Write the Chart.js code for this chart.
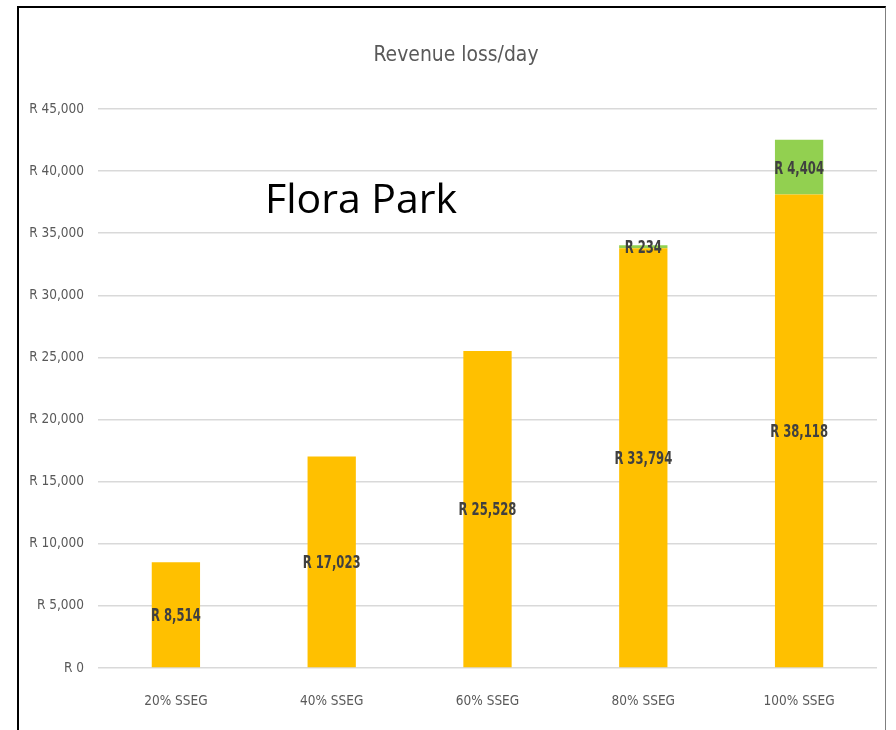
<!DOCTYPE html>
<html>
<head>
<meta charset="utf-8">
<script src="https://cdn.jsdelivr.net/npm/chart.js@4.4.1/dist/chart.umd.min.js"></script>
<style>
  html, body { margin: 0; padding: 0; background: #fff; }
  #wrap { position: relative; width: 896px; height: 730px; overflow: hidden; }
  #frame {
    position: absolute; left: 17px; top: 6px; width: 866px; height: 760px;
    border-left: 2px solid #000; border-top: 2px solid #000; border-right: 1px solid #7f7f7f;
  }
  #chart { position: absolute; left: 0; top: 0; }
</style>
</head>
<body>
<div id="wrap">
  <div id="frame"></div>
  <canvas id="chart" width="896" height="730"></canvas>
</div>
<script>
// 数据
const categories = ['20% SSEG', '40% SSEG', '60% SSEG', '80% SSEG', '100% SSEG'];
const baseLoss = [8514, 17023, 25528, 33794, 38118];
const extraLoss = [0, 0, 0, 234, 4404];
const yTicks = [0, 5000, 10000, 15000, 20000, 25000, 30000, 35000, 40000, 45000];

const narrow = '"Liberation Sans Narrow", "DejaVu Sans Condensed", "Open Sans", sans-serif';

// 格式化为 R 12,345
function formatRand(v) {
  return 'R ' + Math.round(v).toLocaleString('en-US');
}

// 横向压缩文字
function drawNarrowText(ctx, text, x, y, sx) {
  ctx.save();
  ctx.translate(x, y);
  ctx.scale(sx, 1);
  ctx.fillText(text, 0, 0);
  ctx.restore();
}

// 标题和段内数值标签
const labelPlugin = {
  id: 'labels',
  afterDatasetsDraw(chart) {
    const ctx = chart.ctx;
    ctx.save();
    ctx.textAlign = 'center';
    ctx.textBaseline = 'middle';
    ctx.fillStyle = '#404040';
    ctx.font = 'bold 17px ' + narrow;
    chart.data.datasets.forEach((ds, i) => {
      const meta = chart.getDatasetMeta(i);
      meta.data.forEach((bar, j) => {
        const v = ds.data[j];
        if (!v) return;
        const yMid = (bar.y + bar.base) / 2;
        drawNarrowText(ctx, formatRand(v), bar.x, yMid + 2, 0.76);
      });
    });
    ctx.restore();
  },
  afterDraw(chart) {
    const ctx = chart.ctx;
    ctx.save();
    ctx.textAlign = 'center';
    ctx.textBaseline = 'middle';
    ctx.fillStyle = '#595959';
    ctx.font = '22px ' + narrow;
    drawNarrowText(ctx, 'Revenue loss/day', 456, 55, 0.95);
    ctx.textAlign = 'left';
    ctx.fillStyle = '#000';
    ctx.font = '41px "Open Sans", sans-serif';
    ctx.fillText('Flora Park', 265, 201);
    ctx.restore();
  }
};

new Chart(document.getElementById('chart'), {
  type: 'bar',
  data: {
    labels: categories,
    datasets: [
      { label: 'Base', data: baseLoss, backgroundColor: '#FFC000', barPercentage: 0.31, categoryPercentage: 1 },
      { label: 'Extra', data: extraLoss, backgroundColor: '#92D050', barPercentage: 0.31, categoryPercentage: 1 }
    ]
  },
  options: {
    responsive: false,
    animation: false,
    layout: { padding: { left: 0, right: 19, top: 109, bottom: 0 } },
    plugins: {
      legend: { display: false },
      tooltip: { enabled: false }
    },
    scales: {
      x: {
        stacked: true,
        grid: { display: false },
        border: { display: false },
        ticks: { color: '#595959', font: { family: narrow, size: 13.5 }, padding: 17 },
        afterFit(scale) { scale.height = 62; }
      },
      y: {
        stacked: true,
        min: 0,
        max: 45000,
        afterBuildTicks(scale) { scale.ticks = yTicks.map(v => ({ value: v })); },
        grid: { color: '#d9d9d9', lineWidth: 1.5, drawTicks: false },
        border: { display: false },
        ticks: {
          color: '#595959',
          font: { family: narrow, size: 13.5 },
          padding: 14,
          callback: v => formatRand(v)
        },
        afterFit(scale) { scale.width = 98; }
      }
    }
  },
  plugins: [labelPlugin]
});
</script>
</body>
</html>
